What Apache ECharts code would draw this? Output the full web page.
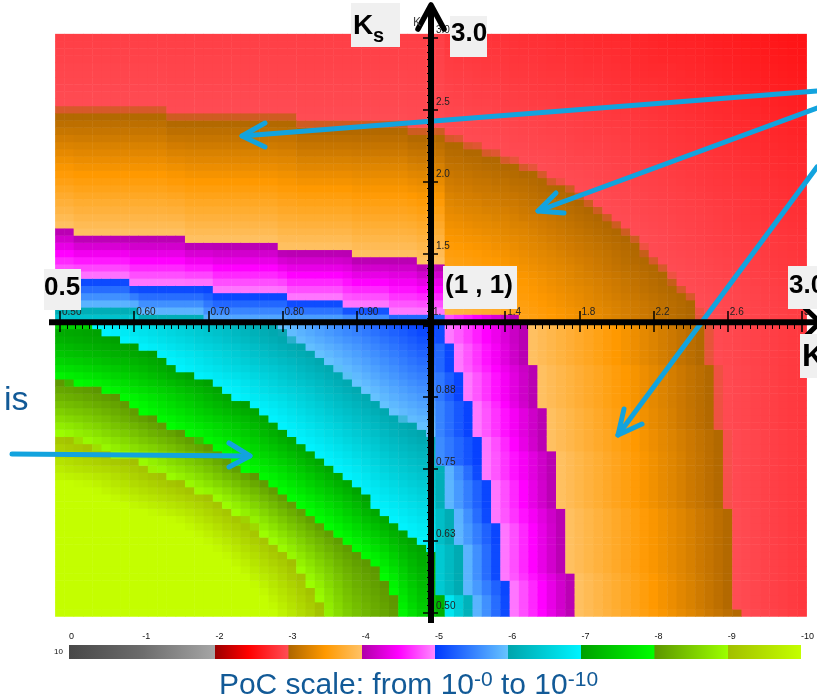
<!DOCTYPE html>
<html>
<head>
<meta charset="utf-8">
<script src="https://cdn.jsdelivr.net/npm/echarts@6.0.0/dist/echarts.min.js"></script>
<style>
html,body{margin:0;padding:0;background:#ffffff;}
#chart{width:817px;height:696px;}
</style>
</head>
<body>
<div id="chart"></div>
<script>
// ================= DATA =================
// Grid nodes of the (Kx, Ks) scan: fine steps below 1, coarse steps above 1
const KX_NODES = [];
for (let i = 0; i <= 40; i++) KX_NODES.push(+(0.5 + i * 0.0125).toFixed(4));
for (let i = 1; i <= 40; i++) KX_NODES.push(+(1 + i * 0.05).toFixed(4));
const KS_NODES = KX_NODES.slice();

// Top-left quadrant (Kx<=1, Ks>1): Ks where log10(PoC) crosses each decade, as steps [Kx from, Ks]
const TL_C3 = [[0.5,2.475],[0.65,2.425],[0.825,2.375],[0.975,2.325]];
const TL_C4 = [[0.5,1.675],[0.525,1.625],[0.675,1.575],[0.8,1.525],[0.9,1.475],[0.9875,1.425]];
const TL_C5 = [[0.5,1.325],[0.6,1.275],[0.7125,1.225],[0.8125,1.175],[0.8875,1.125],[0.95,1.075]];
const TL_C6 = [[0.5,1.125],[0.6125,1.075],[0.7,1.0]];
const TL_TOP_RISE = 0.1;          // red level gain up to Ks = 3

// Top-right quadrant (Kx>1, Ks>1): 1e-3 contour [Kx, Ks]
const TR_C3 = [[1.0,2.35],[1.05,2.325],[1.1,2.275],[1.15,2.275],[1.2,2.225],[1.25,2.225],[1.3,2.175],[1.35,2.175],
  [1.4,2.125],[1.45,2.125],[1.5,2.075],[1.55,2.075],[1.6,2.025],[1.65,1.975],[1.7,1.975],[1.75,1.925],[1.8,1.875],
  [1.85,1.825],[1.9,1.775],[1.95,1.725],[2.0,1.675],[2.05,1.625],[2.1,1.575],[2.15,1.475],[2.2,1.425],[2.25,1.375],
  [2.3,1.275],[2.35,1.225],[2.4,1.175],[2.425,1.0],[2.425,0.9]];
const TR_CENTRE = -3.95;          // log10 PoC next to (1,1)
const TR_OUTER_RATE = 0.3;
const TR_EDGE_ROW_C4 = 1.475;     // magenta strip just above Ks = 1 ends here

// Bottom-right quadrant (Kx>1, Ks<=1): Kx where each decade is crossed, steps [Ks from (top), Kx]
const BR_C3 = [[1.0,2.475],[0.925,2.525],[0.8125,2.575],[0.675,2.625],[0.5,2.675]];
const BR_C4 = [[1.0,1.525],[0.925,1.575],[0.85,1.625],[0.775,1.675],[0.675,1.725],[0.5625,1.775]];
const BR_C5 = [[1.0,1.075],[0.9625,1.125],[0.9125,1.175],[0.8625,1.225],[0.8,1.275],[0.725,1.325],[0.65,1.375],[0.55,1.425]];
const BR_C6 = [[1.0,0.9],[0.75,1.075],[0.675,1.125],[0.6125,1.175],[0.525,1.225]];
const BR_C7 = [[1.0,0.9],[0.525,1.075]];
const BR_RIGHT_RISE = 0.15;

// Bottom-left quadrant (Kx<=1, Ks<=1): decade contours [Kx, Ks]
const BL_C6 = [[0.78,1.02],[0.7927,0.9988],[0.8048,0.9797],[0.8421,0.9536],[0.869,0.9292],[0.8937,0.9044],
  [0.9184,0.8793],[0.9422,0.854],[0.9677,0.8319],[0.9925,0.8145],[1.02,0.79]];
const BL_C7 = [[0.53,1.02],[0.5422,0.9988],[0.5683,0.9797],[0.5929,0.9663],[0.6185,0.9536],[0.6423,0.9419],
  [0.667,0.9171],[0.6926,0.9044],[0.7178,0.8915],[0.7434,0.8667],[0.768,0.854],[0.7927,0.8289],[0.8174,0.8041],
  [0.8421,0.7797],[0.8677,0.7537],[0.8937,0.7276],[0.9184,0.6928],[0.9422,0.6667],[0.9677,0.6406],[0.9925,0.6163],[1.02,0.59]];
const BL_C8 = [[0.0,0.99],[0.2,0.96],[0.35,0.935],[0.45,0.915],[0.496,0.9044],[0.5422,0.8915],[0.5683,0.8793],
  [0.5929,0.8667],[0.6185,0.8423],[0.6423,0.8289],[0.6805,0.8041],[0.7178,0.7797],[0.7434,0.7537],[0.7792,0.7276],
  [0.8048,0.7044],[0.8309,0.6801],[0.8556,0.6551],[0.8802,0.629],[0.9058,0.6029],[0.9296,0.575],[0.947,0.54],
  [0.96,0.49],[0.98,0.4],[1.0,0.3]];
const BL_C9 = [[0.0,0.92],[0.3,0.86],[0.45,0.825],[0.4919,0.8145],[0.5179,0.8029],[0.5422,0.7914],[0.5683,0.7768],
  [0.6064,0.7623],[0.631,0.745],[0.6558,0.7305],[0.6805,0.7159],[0.7051,0.7015],[0.7299,0.6812],[0.7545,0.658],
  [0.7792,0.632],[0.8061,0.6001],[0.8286,0.5654],[0.8465,0.5306],[0.8556,0.4929],[0.87,0.4],[0.9,0.25],[0.93,0.1]];
const BL_CENTRE = -5.0;

// Tick labels
const X_TICKS_LEFT = ['0.50','0.60','0.70','0.80','0.90','1.'];
const X_TICKS_RIGHT = ['1.','1.4','1.8','2.2','2.6','3.'];
const Y_TICKS_TOP = ['1.0','1.5','2.0','2.5','3.0'];
const Y_TICKS_BOTTOM = ['0.50','0.63','0.75','0.88','1.0'];
const SCALE_TICKS = ['0','-1','-2','-3','-4','-5','-6','-7','-8','-9','-10'];
const SCALE_RANGE = [0, -10];
const SCALE_BASE = ['10'];

// ================= STYLE =================
const FONT = '"Liberation Sans", Arial, Helvetica, sans-serif';
const DECADE_COLORS = [
  [[0,'#484848'],[1,'#6c6c6c']],
  [[0,'#6c6c6c'],[1,'#a6a6a6']],
  [[0,'#9c0000'],[0.45,'#ff0000'],[1,'#ff4d55']],
  [[0,'#ae6600'],[0.5,'#ff9900'],[1,'#ffc266']],
  [[0,'#b000a8'],[0.5,'#ff00ff'],[1,'#ff88ff']],
  [[0,'#0038ff'],[1,'#66c4ff']],
  [[0,'#00a4ac'],[1,'#00f4ff']],
  [[0,'#00a000'],[1,'#00ff00']],
  [[0,'#5c9600'],[1,'#9cff00']],
  [[0,'#a2bf00'],[1,'#c4ff00']]
];
function hex2rgb(h){return [parseInt(h.slice(1,3),16),parseInt(h.slice(3,5),16),parseInt(h.slice(5,7),16)];}
function mix(a,b,t){const A=hex2rgb(a),B=hex2rgb(b);return 'rgb('+A.map((x,i)=>Math.round(x+(B[i]-x)*t)).join(',')+')';}
function cmap(v){
  let d=-v; if(d<0)d=0; if(d>9.9999)d=9.9999;
  const n=Math.min(9,Math.floor(d+1e-9)); const f=Math.max(0,d-n); const st=DECADE_COLORS[n];
  for(let i=0;i<st.length-1;i++){ if(f<=st[i+1][0]) return mix(st[i][1],st[i+1][1],(f-st[i][0])/(st[i+1][0]-st[i][0])); }
  return st[st.length-1][1];
}

// ================= FIELD FROM CONTOURS =================
function stepAsc(steps,key){let v=steps[0][1];for(const s of steps){if(key>=s[0]-1e-9)v=s[1];}return v;}
function stepDesc(steps,key){let v=steps[0][1];for(const s of steps){if(key<=s[0]+1e-9)v=s[1];}return v;}
function bandValue(t,pos,lv,tMax,rise){
  const n=pos.length;
  if(t<pos[0]){let w=0;for(let j=1;j<n&&w<=0;j++)w=pos[j]-pos[0];if(w<=0)w=0.1;return Math.max(lv[0]-0.99,lv[0]-(pos[0]-t)/w);}
  let k=0;for(let j=0;j<n;j++)if(pos[j]<=t)k=j;
  if(k===n-1)return lv[n-1]+rise*(t-pos[n-1])/(tMax-pos[n-1]);
  return lv[k]+(t-pos[k])/(pos[k+1]-pos[k])*(lv[k+1]-lv[k]);
}
function rayT(poly,kx,ks){ // contour position along the ray from (1,1) through the cell (cell = 1)
  const dx=kx-1,dy=ks-1;let best=Infinity;
  for(let i=0;i<poly.length-1;i++){
    const A=poly[i],B=poly[i+1];const ex=B[0]-A[0],ey=B[1]-A[1];
    const den=-dx*ey+ex*dy;if(Math.abs(den)<1e-12)continue;
    const ax=A[0]-1,ay=A[1]-1;
    const t=(-ax*ey+ex*ay)/den;const s=(dx*ay-dy*ax)/den;
    if(s>=-1e-9&&s<=1+1e-9&&t>0&&t<best)best=t;
  }
  return best;
}
function tlValue(kx,ks){
  const pos=[stepAsc(TL_C6,kx),stepAsc(TL_C5,kx),stepAsc(TL_C4,kx),stepAsc(TL_C3,kx)];
  return bandValue(ks,pos,[-6,-5,-4,-3],3,TL_TOP_RISE);
}
function brValue(kx,ks){
  const pos=[stepDesc(BR_C7,ks),stepDesc(BR_C6,ks),stepDesc(BR_C5,ks),stepDesc(BR_C4,ks),stepDesc(BR_C3,ks)];
  return bandValue(kx,pos,[-7,-6,-5,-4,-3],3,BR_RIGHT_RISE);
}
function trValue(kx,ks){
  const t=rayT(TR_C3,kx,ks);const rho=isFinite(t)?1/t:0;
  if(rho<=1)return TR_CENTRE+(-3-TR_CENTRE)*rho;
  return Math.min(-2.5,-3+TR_OUTER_RATE*(rho-1));
}
function blValue(kx,ks){
  if(Math.abs(kx-1)<1e-9&&Math.abs(ks-1)<1e-9)return BL_CENTRE;
  const ts=[BL_C6,BL_C7,BL_C8,BL_C9].map(p=>rayT(p,kx,ks));const lv=[-6,-7,-8,-9];
  if(1<=ts[0])return BL_CENTRE+(lv[0]-BL_CENTRE)/ts[0];
  for(let k=0;k<3;k++){
    if(1<=ts[k+1]){ if(!isFinite(ts[k+1])||ts[k+1]<=ts[k])return lv[k]-0.5; return lv[k]-(1-ts[k])/(ts[k+1]-ts[k]); }
  }
  return Math.max(-9.99,lv[3]-(1-ts[3])/Math.max(0.02,ts[3]-ts[2]));
}
function poc(kx,ks){
  if(ks>1.0001){
    if(kx<1.0001)return tlValue(kx,ks);
    if(Math.abs(kx-1.05)<1e-6)return tlValue(1.0,ks);
    if(Math.abs(ks-1.05)<1e-6&&kx<TR_EDGE_ROW_C4)return -4-(TR_EDGE_ROW_C4-kx)/(TR_EDGE_ROW_C4-1.0);
    return trValue(kx,ks);
  }
  if(kx<1.0001)return blValue(kx,ks);
  return brValue(kx,ks);
}
const HEAT = [];
KX_NODES.forEach((kx,ix)=>{KS_NODES.forEach((ks,iy)=>{HEAT.push([ix,iy,+poc(kx,ks).toFixed(3)]);});});

const VM_COLORS=[];for(let k=0;k<=1000;k++)VM_COLORS.push(cmap(-10+k*0.01));
const CB_STOPS=[];DECADE_COLORS.forEach((st,n)=>{st.forEach(([f,c])=>{CB_STOPS.push({offset:Math.min(1,(n+f)/10-(f===1?0.0003:0)),color:c});});});

// ================= CHART =================
const chart = echarts.init(document.getElementById('chart'), null, {renderer:'canvas'});
const tickLine = {color:'#000', width:1.5};
const minorLine = {color:'#000', width:1};
const lblBase = {fontFamily:FONT, fontSize:10, color:'#222'};
const BLUE = '#12a3de';
function poly(points,color,width,z){return {type:'polyline',shape:{points},style:{stroke:color,lineWidth:width,fill:'none',lineCap:'round',lineJoin:'round'},z:z,silent:true};}
function box(x,y,w,h){return {type:'rect',shape:{x,y,width:w,height:h},style:{fill:'#f0f0f0'},z:110,silent:true};}
function label(x,y,text,font,color){return {type:'text',x,y,style:{text,font,fill:color||'#000',verticalAlign:'middle',align:'left'},z:111,silent:true};}

const option = {
  animation:false,
  backgroundColor:'#ffffff',
  title:{
    text:'PoC scale: from 10{sup|-0} to 10{sup|-10}',
    left:'center', top:665,
    textStyle:{fontFamily:FONT,fontSize:30,fontWeight:'normal',color:'#125a97',lineHeight:32,
      rich:{sup:{fontFamily:FONT,fontSize:21,color:'#125a97',verticalAlign:'top',lineHeight:32}}}
  },
  grid:[
    {left:55.36,top:34.1,width:751.3,height:582.4},
    {left:60,top:322,width:371,height:1},
    {left:431,top:322,width:371,height:1},
    {left:431,top:37.7,width:1,height:287.6},
    {left:431,top:325.3,width:1,height:287.6},
    {left:69,top:645,width:738,height:14}
  ],
  xAxis:[
    {gridIndex:0,type:'category',data:KX_NODES.map(String),show:false},
    {gridIndex:1,type:'value',min:0.5,max:1,interval:0.1,position:'top',z:10,
      axisLine:{show:false},splitLine:{show:false},axisTick:{length:12,lineStyle:tickLine},
      axisLabel:Object.assign({margin:5,align:'left',padding:[0,0,0,2],showMinLabel:true,showMaxLabel:true,
        formatter:v=>X_TICKS_LEFT[Math.round((v-0.5)/0.1)]},lblBase)},
    {gridIndex:1,type:'value',min:0.5,max:1,interval:0.1,position:'bottom',z:10,
      axisLine:{show:false},splitLine:{show:false},axisTick:{length:9,lineStyle:tickLine},
      minorTick:{show:true,splitNumber:10,length:6,lineStyle:minorLine},axisLabel:{show:false}},
    {gridIndex:2,type:'value',min:0,max:2,interval:0.4,position:'top',z:10,
      axisLine:{show:false},splitLine:{show:false},axisTick:{length:12,lineStyle:tickLine},
      axisLabel:Object.assign({margin:5,align:'left',padding:[0,0,0,2],showMinLabel:false,showMaxLabel:true,
        formatter:v=>X_TICKS_RIGHT[Math.round(v/0.4)]},lblBase)},
    {gridIndex:2,type:'value',min:0,max:2,interval:0.4,position:'bottom',z:10,
      axisLine:{show:false},splitLine:{show:false},axisTick:{length:9,lineStyle:tickLine},
      minorTick:{show:true,splitNumber:10,length:6,lineStyle:minorLine},axisLabel:{show:false}},
    {gridIndex:3,type:'value',show:false},
    {gridIndex:4,type:'value',show:false},
    {gridIndex:5,type:'value',min:SCALE_RANGE[1],max:SCALE_RANGE[0],inverse:true,interval:1,position:'bottom',z:10,
      axisLine:{show:false},splitLine:{show:false},axisTick:{inside:true,length:17,lineStyle:{color:'#000',width:1}},axisLabel:{show:false}},
    {gridIndex:5,type:'value',min:SCALE_RANGE[1],max:SCALE_RANGE[0],inverse:true,interval:1,position:'top',z:10,
      axisLine:{show:false},splitLine:{show:false},axisTick:{show:false},
      axisLabel:{margin:4,align:'left',fontFamily:FONT,fontSize:9,color:'#111',showMinLabel:true,showMaxLabel:true,
        formatter:v=>SCALE_TICKS[Math.round(-v)]}}
  ],
  yAxis:[
    {gridIndex:0,type:'category',data:KS_NODES.map(String),show:false},
    {gridIndex:1,type:'value',show:false},
    {gridIndex:2,type:'value',show:false},
    {gridIndex:3,type:'value',min:1,max:3,interval:0.5,position:'right',z:10,
      axisLine:{show:false},splitLine:{show:false},axisTick:{length:7,lineStyle:tickLine},
      axisLabel:Object.assign({margin:4,verticalAlign:'bottom',padding:[0,0,2,0],showMinLabel:false,showMaxLabel:true,
        formatter:v=>Y_TICKS_TOP[Math.round((v-1)/0.5)]},lblBase)},
    {gridIndex:3,type:'value',min:1,max:3,interval:0.5,position:'left',z:10,
      axisLine:{show:false},splitLine:{show:false},axisTick:{length:8,lineStyle:tickLine},
      minorTick:{show:true,splitNumber:10,length:4,lineStyle:minorLine},axisLabel:{show:false}},
    {gridIndex:4,type:'value',min:0.5,max:1,interval:0.125,position:'right',z:10,
      axisLine:{show:false},splitLine:{show:false},axisTick:{length:7,lineStyle:tickLine},
      axisLabel:Object.assign({margin:4,verticalAlign:'bottom',padding:[0,0,2,0],showMinLabel:true,showMaxLabel:false,
        formatter:v=>Y_TICKS_BOTTOM[Math.round((v-0.5)/0.125)]},lblBase)},
    {gridIndex:4,type:'value',min:0.5,max:1,interval:0.125,position:'left',z:10,
      axisLine:{show:false},splitLine:{show:false},axisTick:{length:8,lineStyle:tickLine},
      minorTick:{show:true,splitNumber:10,length:4,lineStyle:minorLine},axisLabel:{show:false}},
    {gridIndex:5,type:'category',data:SCALE_BASE,axisLine:{show:false},axisTick:{show:false},
      axisLabel:{margin:6,fontFamily:FONT,fontSize:8,color:'#111'}}
  ],
  visualMap:{type:'continuous',show:false,min:-10,max:0,seriesIndex:0,dimension:2,inRange:{color:VM_COLORS}},
  series:[
    {type:'heatmap',xAxisIndex:0,yAxisIndex:0,data:HEAT,progressive:0,z:1,emphasis:{disabled:true},silent:true},
    {type:'custom',xAxisIndex:7,yAxisIndex:7,data:[[SCALE_RANGE[0],SCALE_RANGE[1],0]],encode:{x:[0,1],y:2},z:1,silent:true,
      renderItem:function(params,api){
        const a=api.coord([api.value(0),api.value(2)]);const b=api.coord([api.value(1),api.value(2)]);
        const h=api.size([0,1])[1];
        return {type:'rect',shape:{x:a[0],y:a[1]-h/2,width:b[0]-a[0],height:h},
          style:{fill:new echarts.graphic.LinearGradient(0,0,1,0,CB_STOPS)}};
      }}
  ],
  graphic:{elements:[
    // blue pointer arrows
    poly([[817,91],[242,136]],BLUE,5,100), poly([[265,123],[242,136],[265,147]],BLUE,5,100),
    poly([[817,108],[538,211]],BLUE,5,100), poly([[556,193],[538,211],[564,213]],BLUE,5,100),
    poly([[817,167],[618,435]],BLUE,5,100), poly([[624,409],[618,435],[642,424]],BLUE,5,100),
    poly([[12,454],[250,456]],BLUE,5,100), poly([[229,443],[250,456],[229,467]],BLUE,5,100),
    // black axes with arrow heads
    {type:'line',shape:{x1:49,y1:322.3,x2:819,y2:322.3},style:{stroke:'#000',lineWidth:6},z:105,silent:true},
    poly([[804,307],[820,322.3],[804,338]],'#000',5,105),
    {type:'line',shape:{x1:431,y1:623,x2:431,y2:7},style:{stroke:'#000',lineWidth:6},z:105,silent:true},
    poly([[418,29],[431,5],[444,29]],'#000',5.5,105),
    // boxed labels
    box(351,3,49,44), label(353,26,'K','bold 28px '+FONT), label(373,36,'s','bold 20px '+FONT),
    box(450,16,37,41), label(451,34,'3.0','bold 26px '+FONT),
    box(44,269,37,41), label(44,288,'0.5','bold 26px '+FONT),
    box(443,266,74,43), label(445,286,'(1 , 1)','bold 26px '+FONT),
    box(788,266,40,43), label(789,286,'3.0','bold 26px '+FONT),
    box(800,334,30,44), label(802,357,'K','bold 32px '+FONT),
    label(413,23,'K','12px '+FONT,'#444'),
    label(4,401,'is','34px '+FONT,'#125a97')
  ]}
};
chart.setOption(option);
</script>
</body>
</html>
